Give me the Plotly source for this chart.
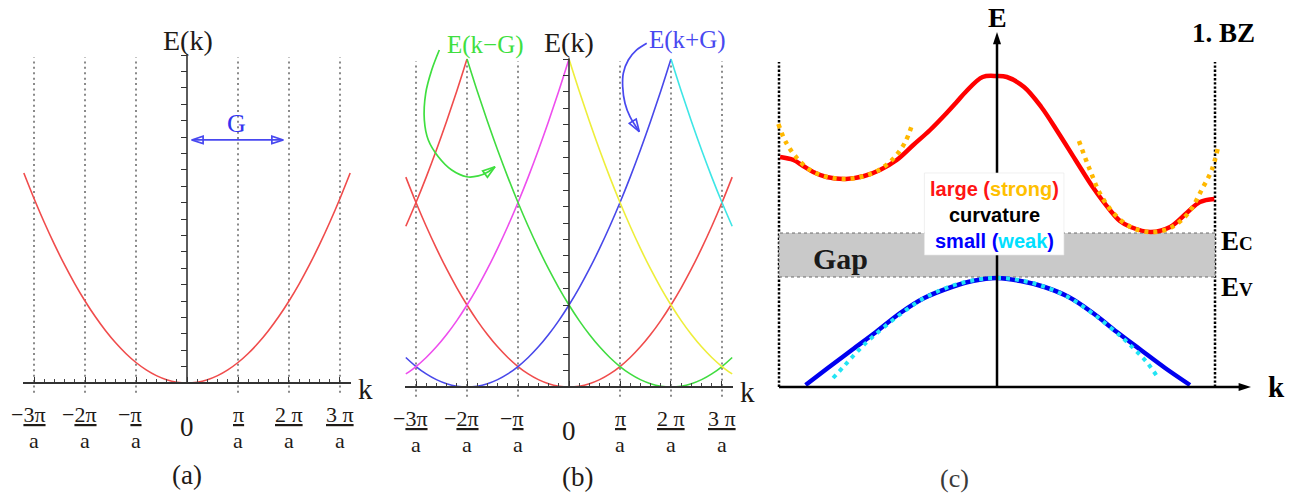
import plotly.graph_objects as go

W, H = 1299, 497

# ---------- free-electron dispersion E(k), k in units of pi/a ----------
k_base = [0.0, 0.2, 0.4, 0.6, 0.8, 1.0, 1.2, 1.4, 1.6, 1.8, 2.0,
          2.2, 2.4, 2.6, 2.8, 3.0, 3.2, 3.4, 3.6, 3.8, 4.0]
E_base = [0.0, 0.05, 0.2, 0.45, 0.8, 1.25, 1.8, 2.45, 3.2, 4.05, 5.0,
          6.05, 7.2, 8.45, 9.8, 11.25, 12.8, 14.45, 16.2, 18.05, 20.0]

zone_k = [-3, -2, -1, 1, 2, 3]
tick_k = [-3, -2, -1, 1, 2, 3]
tick_num = ["−3π", "−2π", "−π", "π", "2 π", "3 π"]
tick_den = ["a", "a", "a", "a", "a", "a"]

# repeated-zone scheme: parabola shifted by reciprocal lattice vectors G
band_G = [0, -6, -2, -4, 2, 4, 6]
band_lo = [-3.2, -3.2, -3.2, -3.2, -2.0, 0.0, 2.0]
band_hi = [3.2, -2.0, 2.0, 0.0, 3.2, 3.2, 3.2]

# reciprocal lattice vector arrow in panel (a)
G_arrow_k = [0.092, 1.888]
G_arrow_E = [14.82, 14.82]

# curved pointer arrows of panel (b)
arrow_kmg_k = [-2.543, -2.692, -2.810, -2.837, -2.759, -2.563, -2.300, -2.006, -1.778, -1.582, -1.451]
arrow_kmg_E = [20.55, 19.33, 17.91, 16.28, 15.06, 14.04, 13.23, 12.82, 12.87, 13.13, 13.43]
arrow_kpg_k = [1.524, 1.327, 1.163, 1.065, 1.053, 1.098, 1.196, 1.378]
arrow_kpg_E = [20.96, 20.55, 19.94, 19.13, 18.31, 17.30, 16.48, 15.57]

# ---------- (c) bands inside the first Brillouin zone ----------
cb_k = [-0.995, -0.934, -0.889, -0.843, -0.782, -0.693, -0.609, -0.537, -0.460, -0.384,
        -0.307, -0.231, -0.185, -0.144, -0.066, 0.0, 0.045, 0.124, 0.203, 0.282,
        0.360, 0.439, 0.518, 0.564, 0.613, 0.705, 0.794, 0.870, 0.931, 0.997]
cb_E = [23.0, 22.7, 22.1, 21.5, 21.0, 20.8, 21.1, 21.7, 22.7, 24.2,
        25.7, 27.4, 28.5, 29.5, 31.0, 31.1, 31.0, 30.0, 28.0, 25.4,
        22.7, 20.0, 17.7, 16.6, 16.0, 15.5, 16.0, 17.4, 18.5, 18.8]

fit_left_k = [-1.003, -0.969, -0.922, -0.858, -0.778, -0.693, -0.609, -0.534, -0.469, -0.421, -0.387]
fit_left_E = [26.3, 24.5, 23.0, 21.7, 21.0, 20.8, 21.1, 21.8, 23.0, 24.5, 26.4]
fit_right_k = [0.376, 0.410, 0.432, 0.471, 0.534, 0.613, 0.705, 0.794, 0.878, 0.943, 0.985, 1.012]
fit_right_E = [24.6, 22.6, 21.4, 19.4, 17.4, 16.0, 15.5, 15.9, 17.4, 19.9, 21.7, 23.8]

vb_k = [-0.878, -0.776, -0.666, -0.555, -0.444, -0.334, -0.208, -0.113, 0.0,
        0.109, 0.218, 0.329, 0.440, 0.550, 0.660, 0.771, 0.885]
vb_E = [0.2, 1.9, 3.7, 5.5, 7.4, 8.9, 10.0, 10.6, 10.9,
        10.6, 10.0, 9.0, 7.4, 5.5, 3.7, 1.9, 0.2]

fit_vb_k = [-0.752, -0.697, -0.634, -0.571, -0.460, -0.334, -0.208, -0.100, 0.0,
            0.100, 0.208, 0.334, 0.460, 0.571, 0.634, 0.690, 0.739]
fit_vb_E = [0.9, 2.2, 3.7, 5.0, 7.0, 8.9, 10.1, 10.7, 10.9,
            10.7, 10.1, 8.9, 7.0, 5.0, 3.7, 2.4, 0.9]

E_C = 15.4
E_V = 11.0
bz_k = [-1.0, 1.0]

# ---------- styles ----------
band_colors = ["#f04c4c", "#f04c4c", "#4848ea", "#ee4eee", "#40dc40", "#eeee3a", "#3ee6e6"]
SERIF = "Liberation Serif"
SANS = "Liberation Sans"
INK = "#1f1b17"
GREEN = "#3fdf3f"
BLUE = "#4848f0"

k_sym = [-k for k in reversed(k_base[1:])] + k_base
E_sym = list(reversed(E_base[1:])) + E_base


def shifted_band(G, lo, hi):
    xs, ys = [], []
    for k, e in zip(k_sym, E_sym):
        x = G + k
        if lo - 1e-6 <= x <= hi + 1e-6:
            xs.append(round(x, 6))
            ys.append(e)
    return xs, ys


fig = go.Figure()

# panel (a): single parabola
xa, ya = shifted_band(0, -3.2, 3.2)
fig.add_trace(go.Scatter(x=xa, y=ya, mode="lines", xaxis="x", yaxis="y",
                         line=dict(color=band_colors[0], width=1.6, shape="spline"),
                         hoverinfo="skip"))
# double arrow marking G
fig.add_trace(go.Scatter(x=G_arrow_k, y=G_arrow_E, mode="lines+markers", xaxis="x", yaxis="y",
                         line=dict(color=BLUE, width=1.7),
                         marker=dict(symbol="arrow-open", size=12, angle=[-90, 90], angleref="up",
                                     color=BLUE, line=dict(color=BLUE, width=1.7)),
                         hoverinfo="skip"))

# panel (b): shifted parabolas
for G, lo, hi, col in zip(band_G, band_lo, band_hi, band_colors):
    xb, yb = shifted_band(G, lo, hi)
    fig.add_trace(go.Scatter(x=xb, y=yb, mode="lines", xaxis="x2", yaxis="y2",
                             line=dict(color=col, width=1.6, shape="spline"),
                             hoverinfo="skip"))

for kk, ee, col in ((arrow_kmg_k, arrow_kmg_E, GREEN), (arrow_kpg_k, arrow_kpg_E, BLUE)):
    fig.add_trace(go.Scatter(x=kk, y=ee, mode="lines", xaxis="x2", yaxis="y2",
                             line=dict(color=col, width=1.7, shape="spline"), hoverinfo="skip"))
    fig.add_trace(go.Scatter(x=kk[-2:], y=ee[-2:], mode="markers", xaxis="x2", yaxis="y2",
                             marker=dict(symbol="arrow-open", size=[0, 13], angleref="previous",
                                         opacity=[0, 1], color=col,
                                         line=dict(color=col, width=1.7)),
                             hoverinfo="skip"))

# panel (c): conduction / valence bands with parabolic approximations
fig.add_trace(go.Scatter(x=cb_k, y=cb_E, mode="lines", xaxis="x3", yaxis="y3",
                         line=dict(color="#ff0000", width=4.5, shape="spline"), hoverinfo="skip"))
for kk, ee in ((fit_left_k, fit_left_E), (fit_right_k, fit_right_E)):
    fig.add_trace(go.Scatter(x=kk, y=ee, mode="lines", xaxis="x3", yaxis="y3",
                             line=dict(color="#ffb800", width=4.5, dash="4px,5px", shape="spline"),
                             hoverinfo="skip"))
fig.add_trace(go.Scatter(x=vb_k, y=vb_E, mode="lines", xaxis="x3", yaxis="y3",
                         line=dict(color="#0000f0", width=4.5, shape="spline"), hoverinfo="skip"))
fig.add_trace(go.Scatter(x=fit_vb_k, y=fit_vb_E, mode="lines", xaxis="x3", yaxis="y3",
                         line=dict(color="#22e4f4", width=4, dash="4px,5px", shape="spline"),
                         hoverinfo="skip"))

# panel (c): k axis with arrow, arrow tip of the energy axis
fig.add_trace(go.Scatter(x=[-1.0, 1.12], y=[0, 0], mode="lines", xaxis="x3", yaxis="y3",
                         line=dict(color="black", width=2.5), hoverinfo="skip"))
fig.add_trace(go.Scatter(x=[1.165, 0.0], y=[0.0, 35.5], mode="markers", xaxis="x3", yaxis="y3",
                         marker=dict(symbol="arrow", size=13, angle=[90, 0], angleref="up",
                                     color="black", line=dict(width=0)),
                         hoverinfo="skip"))


def k_axis(domain, pos):
    return dict(domain=domain, range=[-3.216, 3.216], anchor="free", position=pos,
                showline=True, linecolor="#333", linewidth=1.5,
                ticks="inside", ticklen=5, tickwidth=1.2, tickcolor="#333",
                tickmode="linear", tick0=0, dtick=1,
                minor=dict(ticks="inside", ticklen=3, tickwidth=1, tickcolor="#444",
                           tickmode="linear", tick0=0, dtick=0.2),
                showticklabels=False, showgrid=False, zeroline=False, fixedrange=True)


def e_axis(rng, pos):
    return dict(domain=[0, 1], range=rng, anchor="free", position=pos,
                showline=False, ticks="outside", ticklen=6, tickwidth=1.2, tickcolor="#333",
                tickmode="array", tickvals=list(range(0, 21)), showticklabels=False,
                showgrid=False, zeroline=False, fixedrange=True)


hidden = dict(showline=False, ticks="", showticklabels=False, showgrid=False,
              zeroline=False, fixedrange=True)

fig.update_layout(
    width=W, height=H, margin=dict(l=0, r=0, t=0, b=0),
    paper_bgcolor="white", plot_bgcolor="rgba(0,0,0,0)", showlegend=False,
    template="none",
    xaxis=k_axis([23 / W, 351 / W], 1 - 383 / H),
    yaxis=e_axis([-6.951, 23.354], 187 / W),
    xaxis2=k_axis([405 / W, 733 / W], 1 - 387 / H),
    yaxis2=e_axis([-6.707, 23.598], 569 / W),
    xaxis3=dict(domain=[760 / W, 1.0], range=[-1.0872, 1.3853], anchor="y3", **hidden),
    yaxis3=dict(domain=[0, 1], range=[-11.0, 38.7], anchor="x3", **hidden),
)

shapes = []
for xr, yr in (("x", "y"), ("x2", "y2")):
    for k in zone_k:
        shapes.append(dict(type="line", xref=xr, yref=yr, x0=k, x1=k, y0=-0.6, y1=19.85,
                           line=dict(color="#8a8a8a", width=2, dash="2px,3.4px"), layer="below"))
    shapes.append(dict(type="line", xref=xr, yref=yr, x0=0, x1=0, y0=0, y1=20.05,
                       line=dict(color="#333", width=1.6)))

# (c): zone boundaries, gap, energy axis, label box
for kb in bz_k:
    shapes.append(dict(type="line", xref="x3", yref="y3", x0=kb, x1=kb, y0=0, y1=32.5,
                       line=dict(color="black", width=2.5, dash="2.4px,1.8px"), layer="below"))
shapes.append(dict(type="rect", xref="x3", yref="y3", x0=bz_k[0], x1=bz_k[1], y0=E_V, y1=E_C,
                   fillcolor="#c9c9c9", line=dict(color="#6a6a6a", width=1, dash="dot"),
                   layer="below"))
shapes.append(dict(type="line", xref="x3", yref="y3", x0=0, x1=0, y0=0, y1=34.6,
                   line=dict(color="black", width=2.5), layer="above"))
shapes.append(dict(type="rect", xref="x3", yref="y3", x0=-0.333, x1=0.307, y0=13.2, y1=21.4,
                   fillcolor="white", line=dict(color="#e6e6e6", width=0.6), layer="above"))
fig.update_layout(shapes=shapes)

ann = []


def text(x, y, s, size, color=INK, xref="x", yref="y", family=SERIF, **kw):
    d = dict(x=x, y=y, xref=xref, yref=yref, text=s, showarrow=False,
             xanchor="center", yanchor="middle",
             font=dict(family=family, size=size, color=color))
    d.update(kw)
    ann.append(d)


# tick labels k = n pi / a
for xr, yr in (("x", "y"), ("x2", "y2")):
    for k, num, den in zip(tick_k, tick_num, tick_den):
        if num.startswith("−"):
            s = "−<u>" + num[1:] + "</u>"
            xs = -6
        else:
            s = "<u>" + num + "</u>"
            xs = 0
        text(k, 0, s, 22, xref=xr, yref=yr, yshift=-31, xshift=xs)
        text(k, 0, den, 22, xref=xr, yref=yr, yshift=-57)
    text(0, 0, "0", 27, xref=xr, yref=yr, yshift=-44)

# panel (a)
text(0.02, 20.9, "E(k)", 28)
text(0.98, 15.85, "G", 26, color="#3434f0")
text(365 / W, 1 - 389 / H, "k", 29, xref="paper", yref="paper")
text(0, -5.6, "(a)", 27)

# panel (b)
text(0, 20.98, "E(k)", 28, xref="x2", yref="y2")
text(-1.647, 20.85, "E(k−G)", 25, color=GREEN, xref="x2", yref="y2")
text(2.314, 21.16, "E(k+G)", 25, color=BLUE, xref="x2", yref="y2")
text(748 / W, 1 - 392 / H, "k", 29, xref="paper", yref="paper")
text(0.176, -5.5, "(b)", 27, xref="x2", yref="y2")

# panel (c)
text(0, 37.0, "<b>E</b>", 28, color="black", xref="x3", yref="y3")
text(1.284, 0.0, "<b>k</b>", 29, color="black", xref="x3", yref="y3")
text(1.037, 35.4, "<b>1. BZ</b>", 27, color="black", xref="x3", yref="y3")
text(1.02, 14.6, "<b>E<span style='font-size:19px'>C</span></b>", 27, color="black",
     xref="x3", yref="y3", xanchor="left")
text(1.02, 10.0, "<b>E<span style='font-size:19px'>V</span></b>", 27, color="black",
     xref="x3", yref="y3", xanchor="left")
text(-0.72, 12.9, "<b>Gap</b>", 30, color="#1a1a1a", xref="x3", yref="y3")
box = ("<b><span style='color:#ff1414'>large (</span><span style='color:#ffc000'>strong</span>"
       "<span style='color:#ff1414'>)</span><br>"
       "<span style='color:#000000'>curvature</span><br>"
       "<span style='color:#0000ff'>small (</span><span style='color:#00e0ff'>weak</span>"
       "<span style='color:#0000ff'>)</span></b>")
text(-0.013, 17.2, box, 20, xref="x3", yref="y3", family=SANS)
text(-0.193, -9.1, "(c)", 26, color="#3a3a3a", xref="x3", yref="y3")

fig.update_layout(annotations=ann)
fig.write_html("out.html")
